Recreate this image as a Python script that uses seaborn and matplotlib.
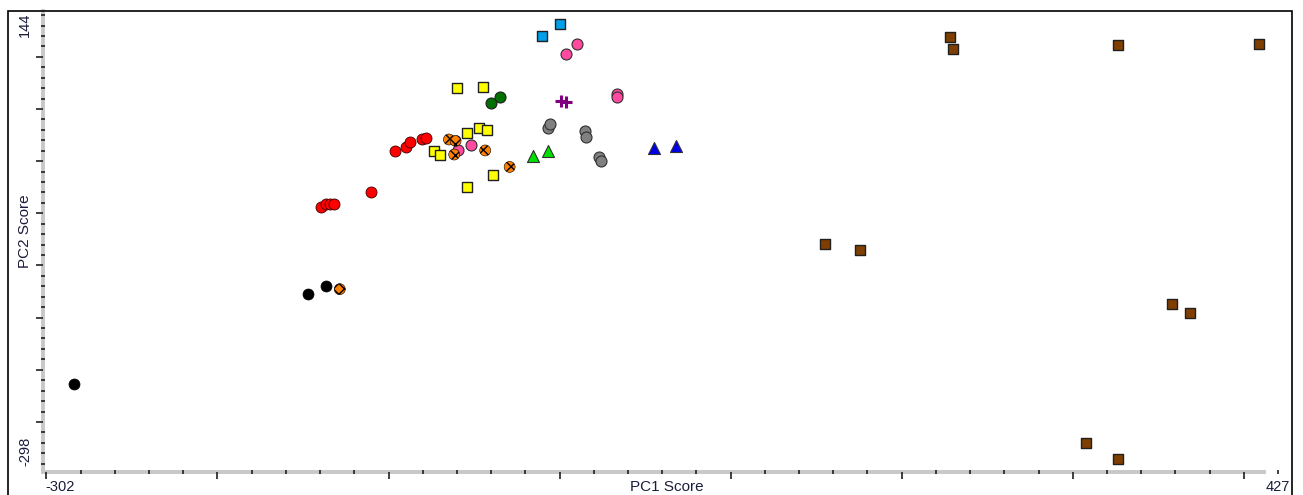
import matplotlib
matplotlib.use("Agg")
import matplotlib.pyplot as plt
import seaborn as sns
import numpy as np
import pandas as pd
from matplotlib.patches import Rectangle

# ---- data (PC1, PC2 scores) ----
black_x = [-283.6, -146.8, -136.3]
black_y = [-213.8, -127.5, -119.6]

orange_x = [-128.5, -64.7, -60.8, -61.6, -43.5, -29.2]
orange_y = [-122.7, 20.8, 19.5, 6.4, 10.3, -5.5]

red_x = [-139.2, -136.3, -134.3, -131.6, -110.5, -96.5, -89.6, -87.3, -80.7, -78.0]
red_y = [-44.1, -41.2, -40.6, -40.6, -29.7, 9.3, 13.4, 18.5, 21.4, 21.8]

yellow_x = [-60.1, -45.0, -54.4, -47.4, -42.3, -73.7, -70.2, -39.2, -54.4]
yellow_y = [70.3, 71.2, 26.6, 32.3, 30.0, 9.3, 6.4, -13.7, -25.2]

dgreen_x = [-40.2, -35.1]
dgreen_y = [55.9, 62.0]

pink_x = [-59.1, -51.6, 10.4, 3.9, 33.7, 33.7]
pink_y = [10.5, 16.0, 112.5, 102.3, 64.0, 61.6]

lblue_x = [0.2, -10.5]
lblue_y = [131.4, 119.8]

purple_x = [1.0, 3.9]
purple_y = [57.8, 56.9]

gray_x = [-6.8, -5.4, 14.6, 15.4, 23.0, 24.0]
gray_y = [32.3, 35.2, 29.1, 23.3, 4.1, 0.3]

lgreen_x = [-15.6, -7.0]
lgreen_y = [5.1, 9.9]

blue_x = [55.4, 68.2]
blue_y = [12.2, 14.4]

brown_x = [228.1, 230.0, 326.3, 408.9, 155.4, 175.4, 357.9, 368.8, 307.6, 326.3]
brown_y = [118.6, 107.7, 111.5, 112.5, -79.6, -85.3, -137.1, -145.4, -270.1, -285.7]

x_min, x_max = -302, 427
y_min, y_max = -298, 144
x_label = "PC1 Score"
y_label = "PC2 Score"

# ---- figure ----
sns.set_style("white")
plt.rcParams['font.family'] = ['Liberation Sans', 'DejaVu Sans']

W, H = 1303, 495
fig = plt.figure(figsize=(W / 100, H / 100), dpi=100)
ax = fig.add_axes([43 / W, 1 - 472 / H, (1290 - 43) / W, (472 - 11) / H])

def pts(px):
    return (px * 72 / 100) ** 2

circ = pts(11)
sq = pts(10.5)
tri = pts(12)

groups = [
    (brown_x, brown_y, dict(marker='s', s=sq, color='#7f3f00', edgecolor='#202020', linewidth=1.0)),
    (black_x, black_y, dict(marker='o', s=circ, color='black', edgecolor='black', linewidth=0.5)),
    (red_x, red_y, dict(marker='o', s=circ, color='#ff0000', edgecolor='#400000', linewidth=0.6)),
    (pink_x, pink_y, dict(marker='o', s=circ, color='#ff4aa0', edgecolor='#303030', linewidth=0.8)),
    (orange_x, orange_y, dict(marker='o', s=circ, color='#ff8000', edgecolor='#000000', linewidth=0.4, hatch='xxx')),
    (yellow_x, yellow_y, dict(marker='s', s=sq, color='#ffff00', edgecolor='#202020', linewidth=1.0)),
    (dgreen_x, dgreen_y, dict(marker='o', s=circ, color='#007000', edgecolor='#202020', linewidth=0.8)),
    (lblue_x, lblue_y, dict(marker='s', s=sq, color='#00a0e8', edgecolor='#202020', linewidth=1.0)),
    (gray_x, gray_y, dict(marker='o', s=circ, color='#808080', edgecolor='#303030', linewidth=0.8)),
    (lgreen_x, lgreen_y, dict(marker='^', s=tri, color='#00e000', edgecolor='#303030', linewidth=0.8)),
    (blue_x, blue_y, dict(marker='^', s=tri, color='#0000e8', edgecolor='#303030', linewidth=0.8)),
]
for gx, gy, kw in groups:
    sns.scatterplot(x=gx, y=gy, ax=ax, legend=False, zorder=3, **kw)

sns.scatterplot(x=purple_x, y=purple_y, ax=ax, marker='+', s=pts(12), color='#800080',
                linewidth=2.2, legend=False, zorder=3)

ax.set_xlim(x_min, x_max)
ax.set_ylim(y_min, y_max)

ax.set_xticks(np.arange(-300, 401, 100))
ax.set_xticks(np.arange(-300, 421, 20), minor=True)
ax.set_yticks(np.arange(-250, 101, 50))
ax.set_yticks(np.arange(-290, 141, 10), minor=True)
ax.set_xticklabels([])
ax.set_yticklabels([])
ax.tick_params(which='major', direction='out', length=5, width=1.2, color='#202020',
               bottom=True, left=True)
ax.tick_params(which='minor', direction='inout', length=3, width=1.2, color='#202020',
               bottom=True, left=True)

for side in ['top', 'right']:
    ax.spines[side].set_visible(False)
for side in ['left', 'bottom']:
    ax.spines[side].set_color('#c8c8c8')
    ax.spines[side].set_linewidth(2.8)
    ax.spines[side].set_zorder(0.5)
ax.spines['bottom'].set_bounds(x_min, 412)

txt = '#1c1c3c'
fs = 10.5
ty = 1 - 487 / H
fig.text(45 / W, ty, str(x_min), ha='left', va='center', fontsize=fs, color=txt)
fig.text(1290 / W, ty, str(x_max), ha='right', va='center', fontsize=fs, color=txt)
fig.text(25 / W, 1 - 13 / H, str(y_max), ha='center', va='top', rotation=90,
         fontsize=fs, color=txt)
fig.text(25 / W, 1 - 466 / H, str(y_min), ha='center', va='bottom', rotation=90,
         fontsize=fs, color=txt)

fig.text(667 / W, ty, x_label, ha='center', va='center', fontsize=11, color=txt)
fig.text(25 / W, 1 - 231 / H, y_label, ha='center', va='center', rotation=90,
         fontsize=11, color=txt)

fig.patches.append(Rectangle((7.5 / W, -0.02), (1292 - 7.5) / W, 1.02 - 10.5 / H,
                             transform=fig.transFigure, fill=False, edgecolor='black',
                             linewidth=1.2, zorder=10))

fig.savefig("out.png", dpi=100)
